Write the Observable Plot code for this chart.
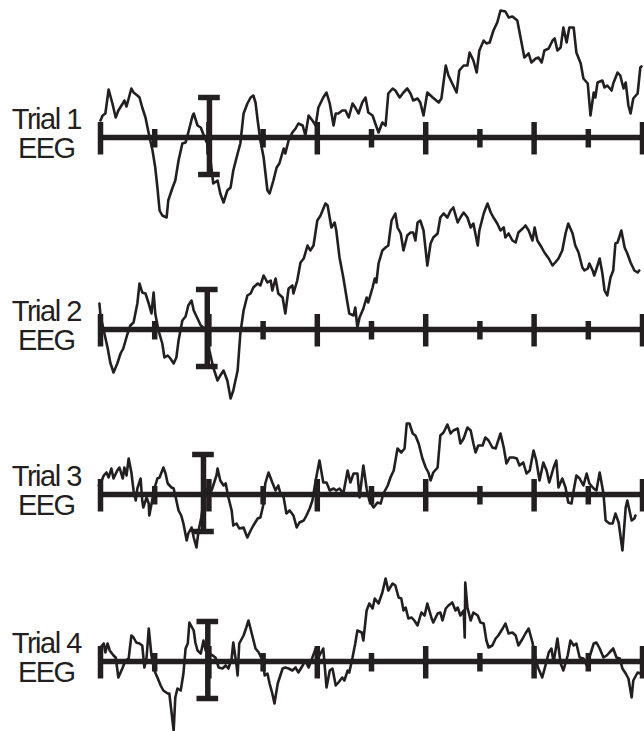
<!DOCTYPE html>
<html><head><meta charset="utf-8">
<script src="https://cdn.jsdelivr.net/npm/d3@7"></script>
<script src="https://cdn.jsdelivr.net/npm/@observablehq/plot@0.6"></script>
<style>body{margin:0;background:#fff}</style>
</head><body><div id="chart"></div>
<script>
// ---- data: [time (ms), amplitude] ----
const trialNames = ["Trial 1", "Trial 2", "Trial 3", "Trial 4"];
const channelName = "EEG";
const trial1 = [[-200,17],[-196,22],[-191,24],[-185,48],[-178,34],[-172,20],[-167,27],[-159,34],[-156,37],[-152,31],[-148,39],[-143,49],[-139,45],[-132,42],[-128,40],[-123,30],[-117,20],[-111,4],[-104,-13],[-99,-30],[-95,-50],[-91,-73],[-86,-78],[-78,-80],[-75,-63],[-67,-50],[-62,-43],[-56,-23],[-49,-6],[-43,-5],[-38,5],[-30,22],[-28,24],[-21,12],[-15,10],[-8,0],[-3,-6],[3,-23],[8,-46],[16,-43],[21,-56],[27,-65],[34,-53],[40,-50],[45,-33],[53,-16],[58,-6],[64,24],[71,34],[77,40],[82,42],[86,35],[90,17],[95,-3],[101,-20],[108,-53],[112,-56],[119,-43],[125,-30],[130,-26],[138,-11],[141,-16],[147,-3],[154,5],[160,9],[165,14],[173,12],[178,2],[184,22],[191,17],[197,12],[202,30],[211,40],[217,45],[223,34],[230,12],[234,24],[239,24],[246,27],[252,27],[258,20],[265,34],[270,30],[276,24],[283,35],[289,40],[294,25],[302,22],[307,14],[313,5],[320,15],[326,12],[331,44],[339,49],[344,47],[352,40],[359,45],[366,49],[372,44],[377,37],[385,39],[390,35],[396,22],[403,45],[413,40],[424,35],[429,39],[437,72],[442,62],[449,54],[457,45],[462,67],[470,72],[477,72],[481,85],[488,77],[494,65],[499,87],[507,97],[512,94],[518,95],[525,107],[532,115],[538,127],[547,126],[553,120],[560,121],[569,117],[575,100],[582,80],[590,84],[595,75],[603,79],[608,80],[614,75],[619,87],[627,89],[634,97],[638,99],[643,87],[649,90],[654,110],[660,95],[665,110],[673,110],[678,85],[686,74],[691,59],[699,54],[704,22],[710,45],[713,40],[717,55],[726,57],[730,50],[735,52],[743,47],[746,54],[754,65],[759,62],[765,49],[769,55],[774,32],[778,24],[783,39],[791,44],[796,70],[798,71]];
const trial2 = [[-202,26],[-200,14],[-194,-1],[-187,-18],[-182,-33],[-176,-43],[-169,-34],[-163,-24],[-158,-19],[-150,-4],[-145,4],[-139,7],[-132,26],[-128,46],[-123,37],[-117,36],[-111,26],[-106,16],[-102,37],[-99,16],[-93,-1],[-86,-14],[-82,-28],[-76,-26],[-71,-29],[-65,-34],[-60,-28],[-56,-11],[-49,9],[-43,13],[-38,24],[-32,29],[-28,19],[-21,11],[-15,4],[-10,2],[-3,-4],[1,-21],[8,-38],[16,-51],[21,-46],[27,-41],[34,-51],[40,-69],[45,-61],[53,-41],[58,-4],[64,19],[71,34],[77,36],[82,42],[90,46],[95,44],[101,54],[108,47],[114,49],[117,39],[123,51],[128,36],[136,32],[141,16],[147,41],[154,44],[156,36],[163,49],[169,67],[175,71],[182,84],[187,79],[193,84],[200,109],[206,114],[215,126],[219,124],[226,102],[232,107],[235,99],[241,72],[248,52],[254,32],[259,16],[267,14],[270,22],[274,2],[278,12],[285,21],[291,32],[294,27],[302,42],[306,51],[309,47],[313,66],[320,79],[326,82],[331,84],[337,109],[344,116],[348,102],[354,96],[359,79],[366,94],[372,97],[377,97],[381,89],[385,107],[390,109],[396,99],[403,64],[409,86],[414,92],[422,96],[427,112],[433,116],[440,112],[446,119],[451,122],[459,107],[464,112],[470,117],[477,112],[483,102],[488,106],[496,84],[499,99],[507,116],[514,126],[520,117],[525,112],[532,106],[538,99],[544,102],[547,92],[553,96],[560,89],[566,87],[571,97],[579,101],[584,104],[590,99],[597,89],[601,102],[606,89],[614,82],[619,77],[627,71],[634,64],[639,67],[645,71],[652,79],[658,96],[663,106],[671,96],[676,84],[682,77],[689,62],[693,59],[699,61],[702,66],[708,59],[711,54],[717,64],[721,71],[726,56],[730,39],[735,34],[741,52],[746,59],[750,86],[754,87],[761,99],[767,82],[772,76],[778,67],[785,59],[791,57],[794,59]];
const trial3 = [[-203,9],[-200,11],[-194,19],[-189,22],[-185,17],[-180,26],[-176,16],[-169,24],[-165,27],[-159,16],[-156,27],[-152,19],[-148,36],[-143,22],[-139,4],[-135,-6],[-132,6],[-126,16],[-123,-6],[-121,-13],[-115,-3],[-111,-9],[-110,-21],[-104,-4],[-100,7],[-95,16],[-91,17],[-84,27],[-80,21],[-76,11],[-69,7],[-65,6],[-60,-6],[-56,-16],[-51,-21],[-47,-29],[-41,-46],[-38,-39],[-32,-33],[-28,-43],[-23,-53],[-19,-36],[-14,-23],[-10,-6],[-4,4],[0,9],[5,4],[8,9],[14,19],[16,26],[21,14],[27,9],[31,11],[36,-3],[42,-16],[45,-31],[51,-29],[56,-34],[64,-33],[68,-39],[71,-43],[77,-36],[82,-31],[90,-24],[95,-23],[101,-9],[104,11],[110,22],[117,12],[123,4],[128,9],[132,1],[138,-3],[143,-19],[149,-16],[156,-21],[162,-33],[167,-28],[175,-26],[180,-21],[186,-14],[191,-6],[197,14],[204,34],[211,12],[217,12],[223,4],[230,6],[235,4],[241,6],[248,1],[256,24],[261,12],[267,21],[274,21],[278,-3],[285,29],[291,6],[296,-6],[304,-13],[311,-8],[317,-9],[322,1],[330,9],[335,17],[341,24],[348,46],[355,42],[361,46],[365,71],[370,71],[376,61],[381,59],[387,51],[394,36],[400,27],[405,22],[409,14],[414,22],[422,27],[427,59],[433,62],[440,70],[446,61],[451,64],[459,66],[464,51],[470,56],[477,67],[483,64],[488,51],[492,42],[497,49],[505,49],[510,57],[516,54],[523,47],[529,46],[538,61],[544,47],[549,31],[555,37],[562,37],[568,36],[573,29],[580,32],[586,21],[592,24],[599,44],[604,34],[610,14],[617,32],[623,24],[628,12],[636,27],[641,34],[645,7],[652,16],[658,7],[663,-8],[669,-9],[673,4],[678,19],[684,16],[691,9],[697,21],[702,11],[710,6],[715,4],[721,22],[728,1],[732,-26],[739,-29],[745,-29],[750,-19],[756,-28],[763,-56],[769,-13],[772,-6],[780,-26],[785,-24],[787,-21]];
const trial4 = [[-200,14],[-194,18],[-191,9],[-187,18],[-183,11],[-176,6],[-172,4],[-167,-16],[-159,-6],[-154,1],[-148,3],[-143,26],[-139,24],[-134,19],[-128,18],[-123,16],[-119,-6],[-115,4],[-111,33],[-106,6],[-102,-6],[-99,-11],[-95,-16],[-89,-24],[-84,-29],[-76,-32],[-73,-32],[-65,-69],[-62,-36],[-58,-27],[-52,-29],[-47,-12],[-43,13],[-39,18],[-36,39],[-28,31],[-25,19],[-21,11],[-15,8],[-10,21],[-6,11],[0,8],[7,6],[12,4],[18,-6],[25,-7],[31,-4],[36,-7],[42,3],[45,19],[51,-4],[53,-14],[56,18],[64,26],[69,34],[73,41],[80,26],[86,13],[92,9],[99,1],[103,-14],[108,-12],[112,-22],[117,-32],[121,-42],[127,-22],[130,-17],[136,-7],[141,-6],[147,-7],[154,-9],[160,-6],[165,-11],[173,-4],[178,1],[184,-6],[191,4],[197,13],[202,4],[206,8],[211,13],[217,-26],[223,-9],[228,-7],[234,-24],[239,-21],[246,-16],[250,-19],[256,-9],[259,-11],[265,4],[270,18],[274,31],[282,29],[285,21],[291,51],[296,58],[302,53],[306,63],[313,58],[320,69],[326,83],[331,71],[339,78],[344,76],[350,64],[355,63],[359,51],[363,54],[368,43],[374,44],[379,41],[385,36],[392,49],[398,46],[403,58],[411,43],[414,39],[422,48],[427,49],[431,41],[437,53],[442,56],[449,59],[455,51],[459,54],[464,46],[470,51],[472,24],[473,79],[477,54],[483,41],[488,49],[496,46],[501,39],[507,38],[512,21],[516,14],[523,16],[529,23],[534,26],[542,33],[547,38],[553,28],[560,29],[566,26],[571,16],[579,23],[584,28],[590,33],[597,19],[603,1],[608,-7],[615,-16],[621,-4],[627,9],[632,13],[636,-1],[643,23],[649,-2],[654,-9],[662,6],[667,21],[673,16],[678,18],[684,4],[691,3],[697,-4],[702,4],[710,18],[715,19],[721,13],[728,4],[734,6],[739,9],[746,13],[752,4],[758,3],[763,-7],[769,-12],[774,-17],[780,-36],[783,-19],[791,-11],[796,-12]];
const trials = [trial1, trial2, trial3, trial4];

// time axis ticks (ms)
const majorTicks = [-200, 0, 200, 400, 600, 800];
const minorTicks = [-100, 100, 300, 500, 700];
// calibration bar: time position per trial, amplitude extent
const scaleBarTimes = [1, -3, -10, -2];
const scaleBarRange = [-37, 40];

// ---- layout (not data) ----
const offsets = [0, -192, -357, -524];   // vertical offset of each trace
const ink = "#231f20";
const majorLen = [-17.5, 15], minorLen = [-10.5, 8], capHalf = 20;

const rows = trials.flatMap((tr, i) => tr.map(([t, v]) => ({trial: i, t, y: v + offsets[i]})));
const tickRows = (ticks, len) => offsets.flatMap(o => ticks.map(t => ({t, y1: o + len[0], y2: o + len[1]})));
const bars = offsets.map((o, i) => ({t: scaleBarTimes[i], lo: o + scaleBarRange[0], hi: o + scaleBarRange[1]}));
const caps = bars.flatMap(b => [b.lo, b.hi].map(y => ({y, x1: b.t - capHalf, x2: b.t + capHalf})));
const labels = trialNames.map((n, i) => ({text: n + "\n" + channelName, y: offsets[i] + 3.6}));

const chart = Plot.plot({
  width: 644, height: 731,
  marginTop: 0, marginBottom: 0, marginLeft: 0, marginRight: 0,
  x: {domain: [-200, 800], range: [100, 642], axis: null},
  y: {domain: [-594, 137], range: [731, 0], axis: null},
  style: {fontFamily: "'Liberation Sans', Arial, sans-serif", letterSpacing: "-1.5px", background: "#fff", color: ink},
  marks: [
    Plot.ruleY(offsets, {y: d => d, x1: -200, x2: 800, stroke: ink, strokeWidth: 5.5}),
    Plot.ruleX(tickRows(majorTicks, majorLen), {x: "t", y1: "y1", y2: "y2", stroke: ink, strokeWidth: 5.5}),
    Plot.ruleX(tickRows(minorTicks, minorLen), {x: "t", y1: "y1", y2: "y2", stroke: ink, strokeWidth: 5.5}),
    Plot.ruleX(bars, {x: "t", y1: "lo", y2: "hi", stroke: ink, strokeWidth: 5.5}),
    Plot.ruleY(caps, {y: "y", x1: "x1", x2: "x2", stroke: ink, strokeWidth: 5.5}),
    Plot.line(rows, {x: "t", y: "y", z: "trial", stroke: ink, strokeWidth: 2.6, curve: "linear"}),
    Plot.text(labels, {x: () => -300, y: "y", text: "text", fontSize: 29, lineHeight: 1.03, textAnchor: "middle", fill: ink})
  ]
});
document.getElementById("chart").appendChild(chart);
</script>
</body></html>
